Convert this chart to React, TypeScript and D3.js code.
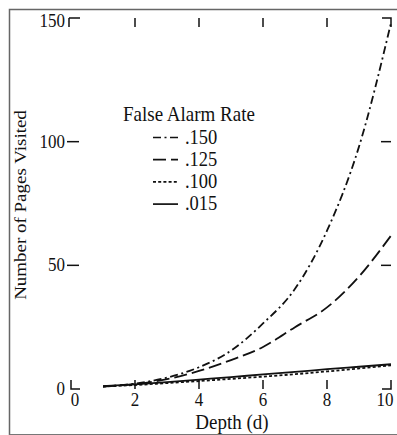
import * as d3 from 'd3';

const depths = [1, 2, 3, 4, 5, 6, 7, 8, 9, 10];
const rate150 = [1, 2.2, 4.6, 8.8, 15.5, 26.5, 40.5, 64, 98, 148];
const rate125 = [1, 2, 4, 7.3, 11.7, 17, 25, 33, 45.5, 62];
const rate100 = [1, 1.6, 2.4, 3.2, 4.1, 5, 6, 7.1, 8.3, 9.6];
const rate015 = [1.2, 1.9, 2.8, 3.8, 4.8, 5.9, 6.9, 8, 9, 10];

const seriesLabels = ['.150', '.125', '.100', '.015'];
const xTicks = [0, 2, 4, 6, 8, 10];
const yTicks = [0, 50, 100, 150];

const W = 397;
const H = 435;
const FONT = '"Liberation Serif", "DejaVu Serif", serif';
const SY = 1.15; // the scan is a bit taller than wide

const dashes = ['8,3.5,2,3.5', '13,5', '3,2.2', ''];

// text drawn with the slight vertical stretch of the scan
function T({ x, y, size, anchor = 'middle', rotate = 0, children }: any) {
    return (
        <g transform={`translate(${x},${y}) scale(1,${SY}) rotate(${rotate})`}>
            <text textAnchor={anchor} fontSize={size} fontFamily={FONT} fill="#111">
                {children}
            </text>
        </g>
    );
}

export default function App() {
    const x = d3.scaleLinear().domain([0, 10]).range([71, 391]);
    const y = d3.scaleLinear().domain([0, 150]).range([389, 18]);

    const all = [rate150, rate125, rate100, rate015];

    const line = d3.line<number>()
        .x((_, i) => x(depths[i]))
        .y(d => y(d))
        .curve(d3.curveMonotoneX);

    const x0 = x(0), x1 = x(10), yb = y(0), yt = y(150);
    const tk = 9;

    return (
        <svg width={W} height={H} style={{ position: 'absolute', left: 0, top: 0, background: '#fff' }}>
            {/* scan frame */}
            <path d={`M9.5,${H} V9.5 H${W}`} fill="none" stroke="#666" strokeWidth={1.5} />
            <path d={`M9.5,434.5 H${W}`} fill="none" stroke="#777" strokeWidth={1.2} />

            <g stroke="#111" strokeWidth={1.5} fill="none">
                {/* corners */}
                <path d={`M${x0 - 2},${yt} H${x0 + tk} M${x0 - 2},${yt} V${yt + tk}`} />
                <path d={`M${x1 - tk},${yt} H${x1} V${yt + tk}`} />
                <path d={`M${x0},${yb - tk} V${yb} H${x0 + tk}`} />
                <path d={`M${x1},${yb - tk} V${yb} H${x1 - tk}`} />
                {/* x ticks, bottom and top */}
                {xTicks.slice(1, -1).map(v => (
                    <g key={v}>
                        <line x1={x(v)} x2={x(v)} y1={yb} y2={yb - tk} />
                        <line x1={x(v)} x2={x(v)} y1={yt} y2={yt + tk} />
                    </g>
                ))}
                {/* y ticks, left and right */}
                {yTicks.slice(1, -1).map(v => (
                    <g key={v}>
                        <line x1={x0 - 4} x2={x0 + 8} y1={y(v)} y2={y(v)} />
                        <line x1={x1 - 10} x2={x1} y1={y(v)} y2={y(v)} />
                    </g>
                ))}
            </g>

            {/* tick labels */}
            {xTicks.map((v, i) => (
                <T key={v} x={x(v) + (i === 0 ? 4 : i === xTicks.length - 1 ? -6 : 0)} y={406} size={17}>
                    {v}
                </T>
            ))}
            {yTicks.map(v => (
                <T key={v} x={65} y={y(v) + (v === 150 ? 9 : 6)} size={17} anchor="end">
                    {v}
                </T>
            ))}

            {/* axis titles */}
            <T x={232} y={429} size={19}>Depth (d)</T>
            <T x={26} y={205} size={16.5} rotate={-90}>Number of Pages Visited</T>

            {/* curves */}
            {all.map((s, i) => (
                <path key={i} d={line(s) || ''} fill="none" stroke="#111"
                    strokeWidth={1.8} strokeDasharray={dashes[i]} />
            ))}

            {/* legend */}
            <T x={189} y={120.5} size={19}>False Alarm Rate</T>
            {seriesLabels.map((lab, i) => {
                const ly = 137.5 + i * 22.2;
                return (
                    <g key={lab}>
                        <line x1={153} x2={178} y1={ly} y2={ly} stroke="#111" strokeWidth={1.7}
                            strokeDasharray={dashes[i]} />
                        <T x={185} y={ly + 6} size={18.5} anchor="start">{lab}</T>
                    </g>
                );
            })}
        </svg>
    );
}
